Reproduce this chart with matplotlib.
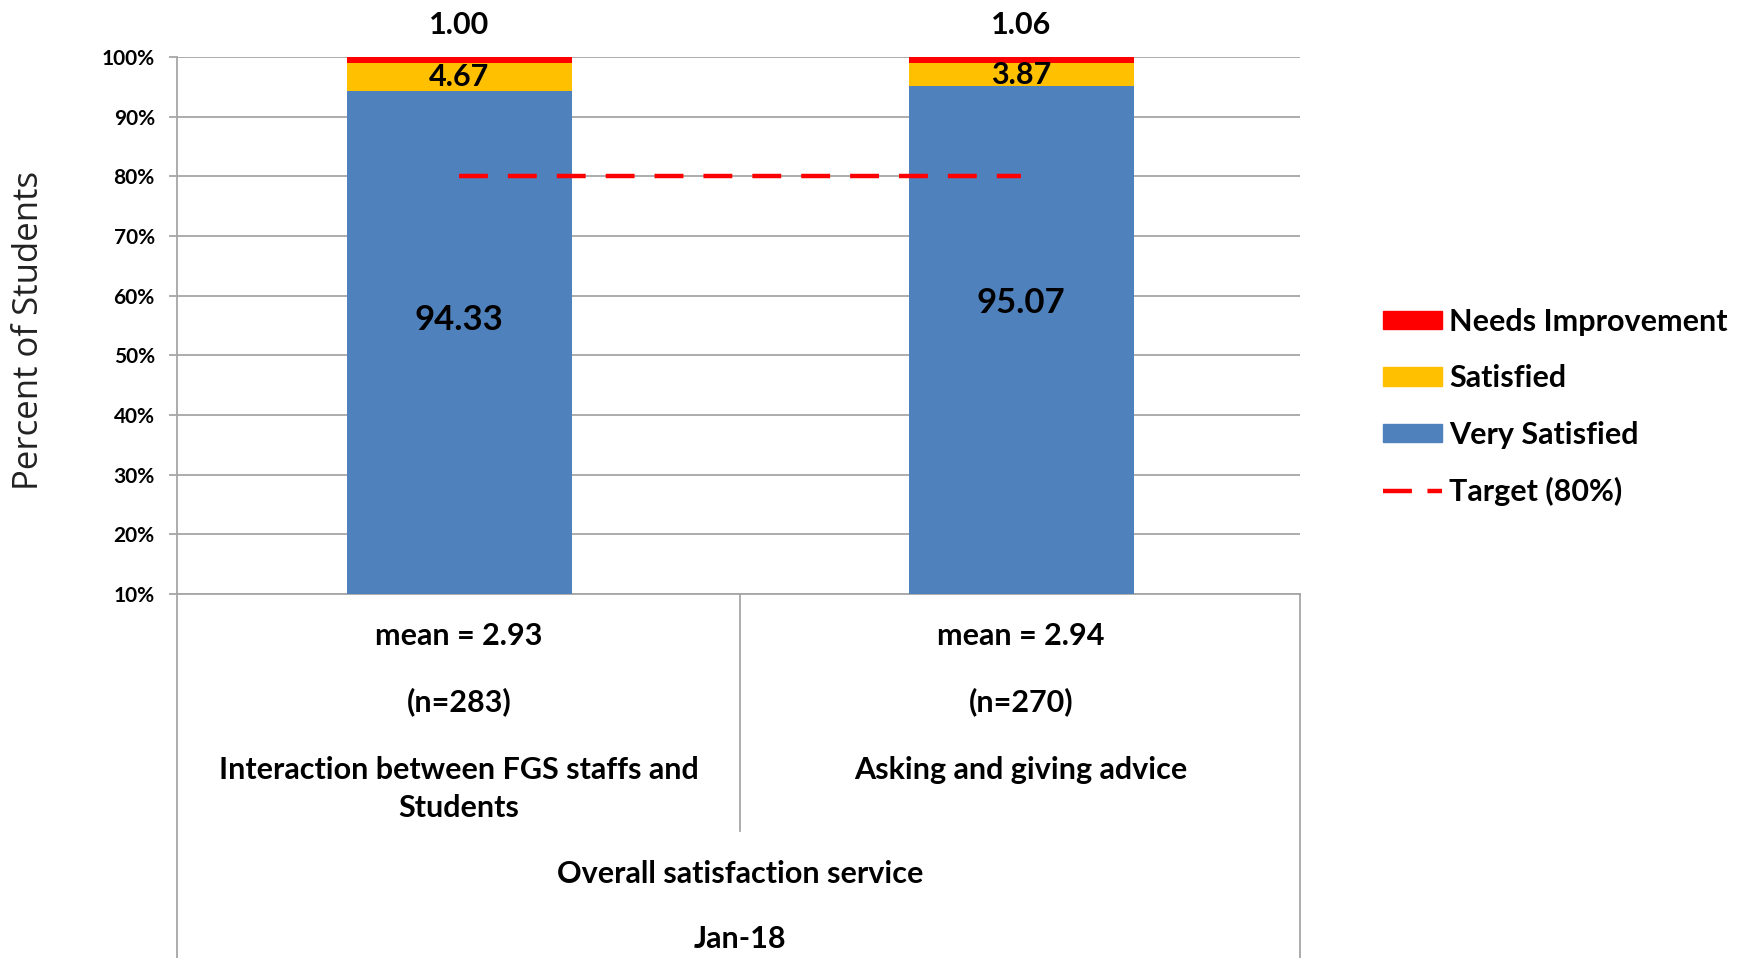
import matplotlib
matplotlib.use("Agg")
import matplotlib.pyplot as plt
import matplotlib.patches as mpatches
from matplotlib.lines import Line2D

plt.rcParams["font.family"] = ["Lato", "DejaVu Sans"]

# ── data ──
categories = ["Interaction between FGS staffs and\nStudents", "Asking and giving advice"]
means = [2.93, 2.94]
n_counts = [283, 270]
very_satisfied = [94.33, 95.07]
satisfied = [4.67, 3.87]
needs_improvement = [1.00, 1.06]
target = 80
group_label = "Overall satisfaction service"
period_label = "Jan-18"

COLORS = {
    "very": "#4F81BD",
    "sat": "#FFC000",
    "needs": "#FF0000",
    "grid": "#A6A6A6",
}

FS = 22  # main text size

W, H = 1756, 958
fig = plt.figure(figsize=(W / 100, H / 100), dpi=100)
# axes in pixel box: left 177, right 1300, top 57, bottom 594
ax = fig.add_axes([177 / W, 1 - 594 / H, (1300 - 177) / W, (594 - 57) / H])

x = list(range(len(categories)))
bw = 0.40
ymin = 10

ax.bar(x, [v - ymin for v in very_satisfied], bw, bottom=ymin,
       color=COLORS["very"], zorder=3)
ax.bar(x, satisfied, bw, bottom=very_satisfied, color=COLORS["sat"], zorder=3)
top_sat = [a + b for a, b in zip(very_satisfied, satisfied)]
ax.bar(x, needs_improvement, bw, bottom=top_sat, color=COLORS["needs"], zorder=3)

# target line between bar centres
ax.plot([x[0], x[-1]], [target, target], color="#FF0000", lw=3.2,
        dashes=(6.5, 4.5), zorder=4)

ax.set_xlim(-0.502, 1.496)
ax.set_ylim(ymin, 100)
ax.set_yticks(range(10, 101, 10))
ax.set_yticklabels([f"{v}%" for v in range(10, 101, 10)],
                   fontsize=15, fontweight="bold")
ax.set_xticks([])
ax.grid(axis="y", color=COLORS["grid"], lw=1.3, zorder=0)
ax.tick_params(axis="y", length=6, color=COLORS["grid"], width=1.3, pad=10)
for s in ["top", "right"]:
    ax.spines[s].set_visible(False)
ax.spines["left"].set_color(COLORS["grid"])
ax.spines["left"].set_linewidth(1.3)
ax.spines["bottom"].set_color(COLORS["grid"])
ax.spines["bottom"].set_linewidth(1.3)

ax.set_ylabel("Percent of Students", fontsize=25, family=["Open Sans", "DejaVu Sans"],
              color="#222222")
ax.yaxis.set_label_coords(-0.1167, 0.49)

# data labels
vs_label_y = [56, 58.8]
for i in x:
    ax.text(i, vs_label_y[i], f"{very_satisfied[i]:.2f}", ha="center", va="center",
            fontsize=25, fontweight="bold", zorder=5)
    ax.text(i, very_satisfied[i] + satisfied[i] / 2, f"{satisfied[i]:.2f}",
            ha="center", va="center", fontsize=FS, fontweight="bold", zorder=5)
    ax.text(i, 105.4, f"{needs_improvement[i]:.2f}", ha="center", va="center",
            fontsize=FS, fontweight="bold", clip_on=False)

# category table below axis
tr = ax.get_xaxis_transform()
bottom = -0.70
ax.add_line(Line2D([-0.502, -0.502], [0, bottom], transform=tr, color=COLORS["grid"],
                   lw=1.3, clip_on=False))
ax.add_line(Line2D([1.496, 1.496], [0, bottom], transform=tr, color=COLORS["grid"],
                   lw=1.3, clip_on=False))
ax.add_line(Line2D([0.5, 0.5], [0, -0.441], transform=tr, color=COLORS["grid"],
                   lw=1.3, clip_on=False))

for i in x:
    ax.text(i, -0.078, f"mean = {means[i]:.2f}", transform=tr, ha="center",
            va="center", fontsize=FS, fontweight="bold")
    ax.text(i, -0.201, f"(n={n_counts[i]})", transform=tr, ha="center",
            va="center", fontsize=FS, fontweight="bold")
    ax.text(i, -0.302, categories[i], transform=tr, ha="center", va="top",
            fontsize=FS, fontweight="bold", linespacing=1.44)
ax.text(0.5, -0.521, group_label, transform=tr, ha="center", va="center",
        fontsize=FS, fontweight="bold")
ax.text(0.5, -0.642, period_label, transform=tr, ha="center", va="center",
        fontsize=FS, fontweight="bold")

# legend
handles = [
    mpatches.Patch(color=COLORS["needs"], label="Needs Improvement"),
    mpatches.Patch(color=COLORS["sat"], label="Satisfied"),
    mpatches.Patch(color=COLORS["very"], label="Very Satisfied"),
    Line2D([0], [0], color="#FF0000", lw=3.2, dashes=(6.5, 3.5), label="Target (80%)"),
]
leg = fig.legend(handles=handles, loc="center left",
                 bbox_to_anchor=(1356 / W, 1 - 407 / H), frameon=False,
                 prop={"size": FS, "weight": "bold"}, handlelength=1.9,
                 handleheight=0.55, labelspacing=0.93, handletextpad=0.25)

fig.savefig("out.png", dpi=100, facecolor="white")
